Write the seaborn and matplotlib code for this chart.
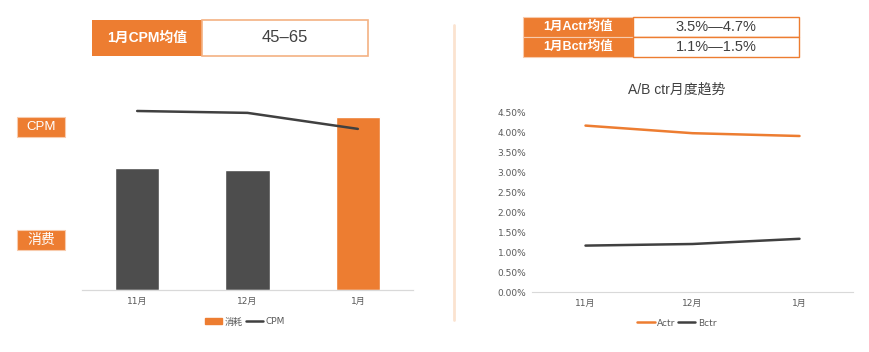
import numpy as np
import pandas as pd
import matplotlib.pyplot as plt
import seaborn as sns
from matplotlib.patches import Rectangle, Patch
from matplotlib.lines import Line2D
from matplotlib.ticker import PercentFormatter

# data
months = ['11月', '12月', '1月']
spend = [6.4, 6.3, 9.1]
cpm = [57.0, 56.4, 51.3]
actr = [0.0416, 0.0397, 0.0390]
bctr = [0.0116, 0.0120, 0.0133]

ORANGE = '#ED7D31'
DARK = '#4D4D4D'
LINE_DARK = '#404040'
GRAY_TXT = '#595959'
BASE = '#D9D9D9'
SMALL_FONT = ['DejaVu Sans', 'Noto Sans CJK SC']

sns.set_style('white')
plt.rcParams['font.family'] = ['Liberation Sans', 'Noto Sans CJK SC']
plt.rcParams['axes.unicode_minus'] = False

W, H = 870, 352
fig = plt.figure(figsize=(W / 100, H / 100), dpi=100)


def px_axes(x0, y0, x1, y1):
    # pixel box (top-left origin) -> figure axes
    return fig.add_axes([x0 / W, 1 - y1 / H, (x1 - x0) / W, (y1 - y0) / H])


def small_ticks(ax):
    for lab in ax.get_xticklabels() + ax.get_yticklabels():
        lab.set_family(SMALL_FONT)
        lab.set_fontsize(6.5)
        lab.set_color(GRAY_TXT)


# ---- left chart: spend bars + CPM line
ax1 = px_axes(82, 100, 413, 290)
df_left = pd.DataFrame({'month': months, 'spend': spend, 'cpm': cpm})
sns.barplot(data=df_left, x='month', y='spend', hue='month',
            palette=[DARK, DARK, ORANGE], saturation=1, width=0.4, legend=False, ax=ax1)
ax1.set_ylim(0, 10)
ax1.set_xlim(-0.5, 2.5)
ax2 = ax1.twinx()
sns.lineplot(data=df_left, x='month', y='cpm', color=LINE_DARK, linewidth=1.8, ax=ax2)
ax2.set_ylim(0, 60.5)
for a in (ax1, ax2):
    a.set_xlabel('')
    a.set_ylabel('')
    a.set_yticks([])
    for s in ['top', 'left', 'right']:
        a.spines[s].set_visible(False)
    a.spines['bottom'].set_color(BASE)
ax1.tick_params(axis='x', length=0, pad=5)
small_ticks(ax1)

leg_font = {'family': SMALL_FONT, 'size': 6.5}
fig.legend(handles=[Patch(color=ORANGE, label='消耗'),
                    Line2D([0], [0], color=LINE_DARK, lw=1.8, label='CPM')],
           loc='center', bbox_to_anchor=(245 / W, 1 - 322 / H), ncol=2, frameon=False,
           prop=leg_font, labelcolor=GRAY_TXT, handlelength=1.9, handletextpad=0.3,
           columnspacing=0.3, handleheight=0.6)

# ---- right chart: A/B ctr
ax3 = px_axes(532, 112, 853, 292)
df_right = pd.DataFrame({'month': months * 2,
                         'ctr': actr + bctr,
                         'series': ['Actr'] * 3 + ['Bctr'] * 3})
sns.lineplot(data=df_right, x='month', y='ctr', hue='series',
             palette=[ORANGE, LINE_DARK], linewidth=1.8, legend=False, ax=ax3)
ax3.set_xlim(-0.5, 2.5)
ax3.set_ylim(0, 0.045)
ax3.set_yticks(np.arange(0, 0.0451, 0.005))
ax3.yaxis.set_major_formatter(PercentFormatter(1, decimals=2))
ax3.set_xlabel('')
ax3.set_ylabel('')
for s in ['top', 'left', 'right']:
    ax3.spines[s].set_visible(False)
ax3.spines['bottom'].set_color(BASE)
ax3.tick_params(axis='both', length=0)
ax3.tick_params(axis='x', pad=5)
ax3.tick_params(axis='y', pad=4)
fig.canvas.draw()
small_ticks(ax3)
fig.text(677 / W, 1 - 90 / H, 'A/B ctr月度趋势', ha='center', va='center',
         fontsize=10, color='#404040')

fig.legend(handles=[Line2D([0], [0], color=ORANGE, lw=1.8, label='Actr'),
                    Line2D([0], [0], color=LINE_DARK, lw=1.8, label='Bctr')],
           loc='center', bbox_to_anchor=(677 / W, 1 - 323 / H), ncol=2, frameon=False,
           prop=leg_font, labelcolor=GRAY_TXT, handlelength=1.9, handletextpad=0.3,
           columnspacing=0.3)

# ---- overlay for boxes and divider
ov2 = fig.add_axes([0, 0, 1, 1], zorder=5)
ov2.set_xlim(0, W)
ov2.set_ylim(H, 0)
ov2.axis('off')
ov2.patch.set_alpha(0)

ov2.plot([454, 454], [25, 320], color='#FBE3D0', lw=2)

# left table
ov2.add_patch(Rectangle((92, 20), 110, 36, facecolor=ORANGE, edgecolor='none'))
ov2.add_patch(Rectangle((202, 20), 166, 36, facecolor='white', edgecolor='#F4B183', lw=1.2))
ov2.text(147, 38, '1月CPM均值', ha='center', va='center', color='white',
         fontsize=10, fontweight='bold')
ov2.text(285, 38, '45–65', ha='center', va='center', color='#404040', fontsize=12)

# side labels
for y0, lab, fs in [(117, 'CPM', 9.5), (230, '消费', 10)]:
    ov2.add_patch(Rectangle((17, y0), 48, 20, facecolor=ORANGE, edgecolor='#F8CBAD', lw=0.8))
    ov2.text(41, y0 + 10, lab, ha='center', va='center', color='white', fontsize=fs)

# right table
rows = [('1月Actr均值', '3.5%—4.7%'), ('1月Bctr均值', '1.1%—1.5%')]
for i, (lab, val) in enumerate(rows):
    y0 = 17 + i * 20
    ov2.add_patch(Rectangle((523, y0), 110, 20, facecolor=ORANGE, edgecolor='#F8CBAD', lw=0.8))
    ov2.add_patch(Rectangle((633, y0), 166, 20, facecolor='white', edgecolor=ORANGE, lw=1))
    ov2.text(578, y0 + 10, lab, ha='center', va='center', color='white',
             fontsize=9, fontweight='bold')
    ov2.text(716, y0 + 10, val, ha='center', va='center', color='#404040', fontsize=10.5)

fig.savefig('out.png', dpi=100)
